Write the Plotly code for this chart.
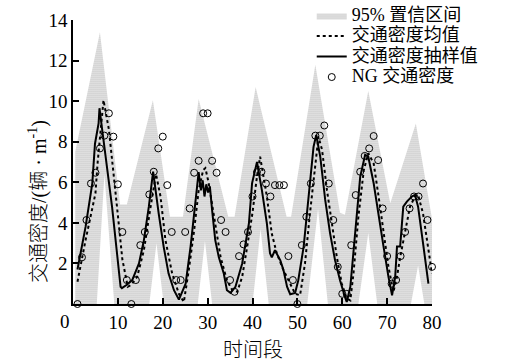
import plotly.graph_objects as go

# ---- data ----
band_upper_x = [0.5, 6.0, 10.5, 12.0, 17.8, 21.6, 24.5, 28.0, 34.6, 36.0, 40.7, 47.6, 48.6, 54.0, 59.5, 60.6, 65.8, 70.7, 76.4, 80.0]
band_upper_y = [7.5, 13.4, 4.9, 4.9, 10.05, 4.3, 4.3, 10.1, 4.3, 4.3, 10.7, 4.3, 4.3, 11.8, 4.5, 4.4, 10.5, 4.97, 8.9, 4.2]
band_lower_x = [0.5, 5.3, 7.0, 9.2, 17.0, 18.6, 20.2, 27.8, 29.4, 31.0, 40.0, 41.8, 43.6, 52.2, 54.6, 56.8, 63.6, 65.8, 67.8, 75.3, 76.9, 78.3, 80.0]
band_lower_y = [0, 0, 6.4, 0, 0, 3.0, 0, 0, 3.1, 0, 0, 3.7, 0, 0, 4.7, 0, 0, 3.5, 0, 0, 1.9, 0, 0]

mean_x = [1, 2.8, 5.0, 5.5, 6.8, 8.0, 9.8, 11.0, 12.2, 13.0, 14.3, 15.8, 17.3, 18.5, 19.5, 20.6, 22.1, 23.6, 24.7,
          25.8, 27.0, 28.0, 29.0, 29.5, 30.2, 31.7, 32.9, 34.3, 35.5, 36.6, 37.7, 38.8, 40.0, 41.0, 41.7, 43.2,
          44.3, 45.4, 46.9, 48.4, 49.5, 50.6, 51.7, 52.8, 54.0, 54.7, 55.5, 56.6, 57.7, 58.8, 59.9, 61.0, 61.8,
          62.5, 63.6, 64.8, 65.8, 67.0, 68.1, 69.2, 70.3, 71.4, 72.2, 72.9, 74.0, 75.1, 76.2, 76.9, 78.0, 79.2, 80.0]
mean_y = [1.1, 3.15, 5.45, 7.0, 10.05, 8.6, 4.8, 2.2, 0.85, 0.95, 1.34, 2.65, 4.8, 6.4, 5.3, 3.15, 1.5, 0.5, 0.1,
          1.67, 3.64, 5.6, 6.6, 6.7, 6.0, 3.97, 2.3, 1.17, 0.68, 0.6, 1.34, 2.8, 4.5, 6.3, 7.26, 5.3,
          3.47, 2.5, 1.67, 1.0, 0.5, 0.43, 2.0, 4.46, 6.93, 8.25, 7.6, 5.6, 3.97, 2.3, 1.0, 0.27, 0.18,
          1.5, 4.3, 6.6, 7.43, 6.93, 5.3, 3.47, 1.83, 0.6, 1.34, 2.3, 3.64, 4.8, 5.3, 5.38, 4.46, 2.65, 1.5]

sample_x = [1.0, 1.5, 2.8, 4.3, 4.9, 5.7, 5.9, 6.5, 8.7, 10.6, 10.9, 12.0, 13.2, 14.7, 15.8, 16.9, 17.85, 19.1,
            20.2, 21.3, 22.5, 23.6, 25.1, 26.2, 27.3, 28.0, 28.5, 28.9, 29.3, 29.7, 30.1, 30.5, 31.0, 31.7,
            32.5, 33.6, 34.3, 35.1, 36.2, 37.7, 39.2, 39.9, 41.0, 42.1, 43.2, 43.9, 44.3, 45.0, 46.2, 46.9,
            47.7, 48.4, 49.5, 50.2, 51.4, 52.5, 53.6, 54.2, 55.1, 56.2, 57.3, 58.4, 59.5, 60.6, 61.0, 61.8,
            62.9, 64.0, 65.1, 65.8, 67.0, 68.1, 69.2, 70.3, 71.1, 71.8, 72.2, 72.9, 73.6, 74.4, 75.5, 76.2,
            76.9, 78.0, 79.2]
sample_y = [1.7, 2.3, 3.8, 5.95, 7.9, 8.9, 9.65, 8.6, 4.8, 0.85, 0.78, 0.95, 1.18, 2.0, 3.15, 4.8, 6.52, 4.46,
            2.83, 1.5, 0.68, 0.22, 1.0, 2.83, 5.3, 6.5, 5.6, 6.1, 5.3, 5.9, 5.5, 5.8, 4.63, 3.15,
            2.3, 1.5, 0.68, 0.55, 0.85, 2.0, 3.97, 5.95, 7.0, 5.6, 3.97, 2.5, 2.3, 2.65, 2.15, 1.67,
            0.85, 0.48, 0.55, 1.17, 2.83, 5.3, 7.75, 8.33, 7.26, 5.13, 3.47, 2.15, 1.17, 0.35, 0.1, 0.85,
            3.64, 6.27, 7.35, 7.26, 5.95, 4.3, 2.83, 1.34, 0.43, 1.34, 2.83, 2.83, 4.8, 5.05, 5.3, 5.38,
            4.8, 3.0, 1.0]

ng_x = list(range(1, 81))
ng_y = [0, 2.3, 4.14, 5.94, 6.47, 7.67, 8.3, 9.4, 8.25, 5.9,
        3.55, 1.18, 0, 1.18, 2.9, 3.55, 5.4, 6.52, 7.67, 8.25,
        5.86, 3.55, 1.18, 1.18, 3.55, 4.71, 6.47, 7.06, 9.4, 9.4,
        7.06, 6.47, 4.14, 3.55, 1.18, 0.6, 2.36, 2.94, 3.55, 5.3,
        6.5, 6.52, 5.94, 5.3, 5.86, 5.86, 5.86, 2.36, 1.18, 0,
        2.9, 4.3, 5.94, 8.3, 8.3, 8.8, 5.94, 4.14, 1.83, 0.5,
        0.5, 2.9, 5.37, 6.52, 7.3, 7.67, 8.28, 7.09, 4.71, 2.36,
        1.0, 1.18, 2.36, 3.55, 4.71, 5.3, 5.3, 5.94, 4.14, 1.83]

x_ticks = [10, 20, 30, 40, 50, 60, 70, 80]
y_ticks = [2, 4, 6, 8, 10, 12, 14]

names = ["95% 置信区间", "交通密度均值", "交通密度抽样值", "NG 交通密度"]
x_title = "时间段"
y_title = "交通密度/(辆 · m<sup>-1</sup>)"

FONT = "Liberation Serif, Noto Sans CJK SC, serif"


def leg(t):
    # real text size 18px; legend row height is computed from the smaller legend font
    return '<span style="font-size:18px">' + t + '</span>'


fig = go.Figure()
fig.add_trace(go.Scatter(
    x=band_upper_x + band_lower_x[::-1], y=band_upper_y + band_lower_y[::-1],
    fill="toself", mode="lines", line=dict(width=0, color="rgba(0,0,0,0)"),
    fillcolor="rgba(0,0,0,0)",
    fillpattern=dict(shape=".", fgcolor="#6e6e6e", bgcolor="white", size=2, solidity=0.6),
    name=leg(names[0]), hoverinfo="skip"))
fig.add_trace(go.Scatter(x=mean_x, y=mean_y, mode="lines",
                         line=dict(color="black", width=2, dash="dot"), name=leg(names[1])))
fig.add_trace(go.Scatter(x=sample_x, y=sample_y, mode="lines",
                         line=dict(color="black", width=2), name=leg(names[2])))
fig.add_trace(go.Scatter(x=ng_x, y=ng_y, mode="markers",
                         marker=dict(symbol="circle-open", size=7, color="black", line=dict(width=1)),
                         name=leg(names[3]), cliponaxis=False))

axis_common = dict(showgrid=False, zeroline=False, showline=True, linecolor="black", linewidth=1.5,
                   ticks="inside", ticklen=6, tickwidth=1.5, tickcolor="black",
                   tickfont=dict(family=FONT, size=19, color="black"))
fig.update_xaxes(range=[0, 80], tickvals=x_ticks, ticktext=[str(v) for v in x_ticks], **axis_common)
fig.update_yaxes(range=[0, 14], tickvals=y_ticks, ticktext=[str(v) for v in y_ticks], **axis_common)

fig.update_layout(
    width=506, height=362,
    margin=dict(l=73, r=74, t=20, b=58, autoexpand=False),
    plot_bgcolor="white", paper_bgcolor="white",
    font=dict(family=FONT, size=19, color="black"),
    showlegend=True,
    legend=dict(x=0.665, y=1.07, xanchor="left", yanchor="top", bgcolor="rgba(0,0,0,0)",
                font=dict(family=FONT, size=13.5, color="black"), tracegroupgap=0, itemwidth=30),
    annotations=[
        dict(text=x_title, xref="paper", yref="paper", x=0.5, y=-0.162, yanchor="middle",
             showarrow=False, font=dict(family=FONT, size=20, weight=300)),
        dict(text=y_title, xref="paper", yref="paper", x=-0.097, y=0.36, textangle=-90,
             xanchor="center", yanchor="middle", showarrow=False, font=dict(family=FONT, size=20, weight=300)),
        dict(text="0", xref="paper", yref="paper", x=-0.042, y=-0.063, yanchor="middle",
             showarrow=False, font=dict(family=FONT, size=19)),
    ],
)

fig.write_html("out.html", config={"displayModeBar": False},
               post_script="document.body.style.margin='0px';")
